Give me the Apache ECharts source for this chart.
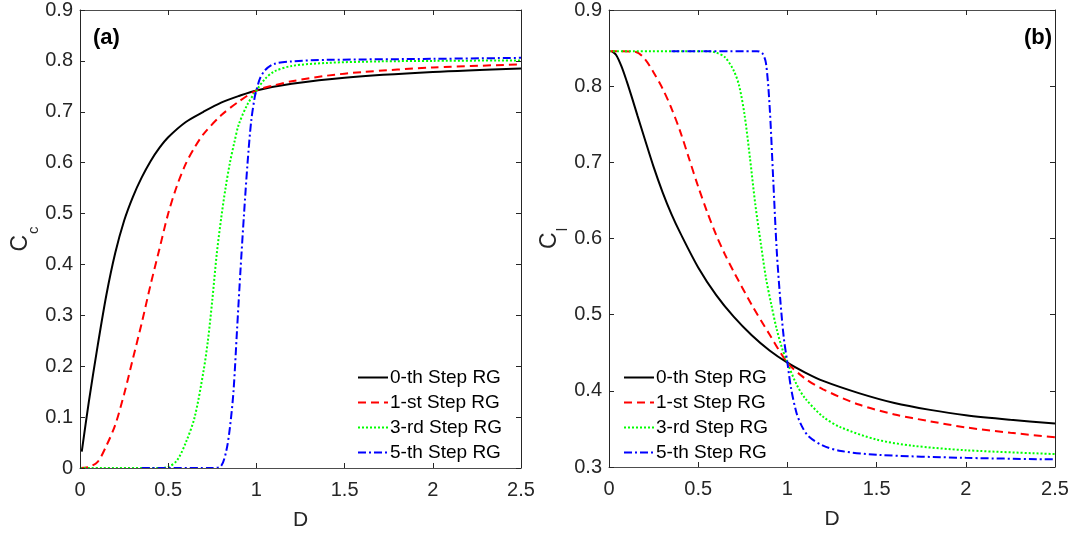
<!DOCTYPE html>
<html><head><meta charset="utf-8">
<script src="https://cdn.jsdelivr.net/npm/echarts@6/dist/echarts.min.js"></script>
<style>html,body{margin:0;padding:0;background:#fff}#c{width:1078px;height:538px}</style>
</head><body><div id="c"></div>
<script>
// ---- Data ----
const seriesNames = ['0-th Step RG', '1-st Step RG', '3-rd Step RG', '5-th Step RG'];
const xTicks = [0, 0.5, 1, 1.5, 2, 2.5];

// Panel (a): C_c vs D
const aD0 = [0.01,0.05,0.1,0.15,0.2,0.25,0.3,0.35,0.4,0.45,0.5,0.6,0.7,0.8,0.9,1.0,1.2,1.5,2.0,2.5];
const aC0 = [0.032,0.13,0.24,0.341,0.423,0.486,0.533,0.571,0.603,0.629,0.65,0.68,0.70,0.718,0.731,0.742,0.755,0.767,0.778,0.785];
const aD1 = [0,0.05,0.1,0.15,0.2,0.25,0.3,0.35,0.4,0.45,0.5,0.55,0.6,0.65,0.7,0.8,0.9,1.0,1.1,1.2,1.4,1.6,2.0,2.5];
const aC1 = [0,0.002,0.012,0.044,0.085,0.145,0.215,0.285,0.36,0.43,0.5,0.555,0.598,0.63,0.656,0.693,0.72,0.742,0.752,0.76,0.771,0.778,0.787,0.793];
const aD3 = [0,0.45,0.5,0.55,0.6,0.65,0.7,0.725,0.75,0.775,0.8,0.825,0.85,0.875,0.9,0.95,1.0,1.05,1.1,1.2,1.4,1.7,2.0,2.5];
const aC3 = [0,0,0.002,0.015,0.05,0.1,0.19,0.25,0.33,0.42,0.49,0.55,0.6,0.64,0.675,0.715,0.742,0.765,0.779,0.79,0.796,0.799,0.8,0.801];
const aD5 = [0.35,0.75,0.8,0.83,0.85,0.87,0.89,0.91,0.93,0.95,0.97,0.99,1.0,1.02,1.05,1.1,1.2,1.4,2.0,2.5];
const aC5 = [0,0,0.004,0.035,0.08,0.15,0.27,0.39,0.5,0.6,0.68,0.728,0.742,0.765,0.782,0.794,0.799,0.802,0.804,0.806];

// Panel (b): C_l vs D
const bD0 = [0.015,0.04,0.07,0.1,0.13,0.16,0.2,0.25,0.3,0.35,0.4,0.5,0.6,0.7,0.8,0.9,1.0,1.1,1.2,1.4,1.6,1.8,2.0,2.25,2.5];
const bC0 = [0.846,0.841,0.826,0.806,0.784,0.761,0.731,0.694,0.661,0.632,0.607,0.562,0.526,0.497,0.473,0.453,0.437,0.424,0.413,0.397,0.384,0.375,0.368,0.362,0.357];
const bD1 = [0,0.15,0.2,0.25,0.3,0.35,0.4,0.45,0.5,0.55,0.6,0.65,0.7,0.8,0.9,1.0,1.1,1.2,1.4,1.6,1.8,2.0,2.25,2.5];
const bC1 = [0.846,0.845,0.836,0.818,0.797,0.771,0.740,0.704,0.668,0.635,0.605,0.579,0.556,0.513,0.474,0.437,0.416,0.402,0.382,0.369,0.36,0.352,0.345,0.339];
const bD3 = [0,0.55,0.6,0.65,0.7,0.73,0.76,0.79,0.82,0.85,0.88,0.91,0.94,0.97,1.0,1.05,1.1,1.2,1.3,1.5,1.7,2.0,2.5];
const bC3 = [0.846,0.846,0.844,0.838,0.82,0.8,0.762,0.706,0.645,0.595,0.548,0.513,0.481,0.456,0.437,0.409,0.39,0.366,0.352,0.336,0.328,0.322,0.317];
const bD5 = [0.35,0.83,0.86,0.88,0.9,0.92,0.94,0.96,0.98,1.0,1.02,1.05,1.08,1.12,1.2,1.3,1.5,2.0,2.5];
const bC5 = [0.846,0.846,0.843,0.83,0.775,0.68,0.585,0.52,0.469,0.437,0.404,0.372,0.354,0.34,0.328,0.321,0.316,0.312,0.31];

const colors = ['#000000', '#ff0000', '#00ff00', '#0000ff'];
const dashes = ['solid', [8, 5], [2, 2], [8, 3, 2, 3]];

function pairs(xs, ys) { return xs.map((x, i) => [x, ys[i]]); }

const panelA = [pairs(aD0, aC0), pairs(aD1, aC1), pairs(aD3, aC3), pairs(aD5, aC5)];
const panelB = [pairs(bD0, bC0), pairs(bD1, bC1), pairs(bD3, bC3), pairs(bD5, bC5)];

const FONT = 'Liberation Sans, Arial, sans-serif';
const TXT = '#262626';
const AX = '#262626';

function xAx(gi, pos) {
  return {
    type: 'value', gridIndex: gi, position: pos, min: 0, max: 2.5, interval: 0.5,
    name: pos === 'bottom' ? 'D' : '', nameLocation: 'middle', nameGap: 42,
    nameTextStyle: { fontFamily: FONT, fontSize: 21, color: TXT },
    axisLine: { show: true, onZero: false, lineStyle: { color: '#4d4d4d', width: 1 } },
    axisTick: { show: true, inside: true, length: 5, lineStyle: { color: AX } },
    axisLabel: { show: pos === 'bottom', fontFamily: FONT, fontSize: 20, color: TXT, margin: 12 },
    splitLine: { show: false }, z: 5
  };
}
function yAx(gi, pos, min, nameRich, gap) {
  return {
    type: 'value', gridIndex: gi, position: pos, min: min, max: 0.9, interval: 0.1,
    name: pos === 'left' ? nameRich : '', nameLocation: 'middle', nameGap: gap,
    nameRotate: 90,
    nameTextStyle: {
      fontFamily: FONT, fontSize: 23, color: TXT,
      rich: {
        m: { fontFamily: FONT, fontSize: 23, color: TXT, verticalAlign: 'top', lineHeight: 24 },
        s: { fontFamily: FONT, fontSize: 15, color: TXT, verticalAlign: 'top', lineHeight: 15, padding: [17, 0, 0, 1] }
      }
    },
    axisLine: { show: true, onZero: false, lineStyle: { color: AX, width: 1 } },
    axisTick: { show: true, inside: true, length: 5, lineStyle: { color: AX } },
    axisLabel: { show: pos === 'left', fontFamily: FONT, fontSize: 20, color: TXT, margin: 7,
      formatter: v => (Math.round(v * 10) / 10).toString() },
    splitLine: { show: false }, z: 5
  };
}

const series = [];
[panelA, panelB].forEach((panel, gi) => {
  panel.forEach((d, i) => {
    series.push({
      name: seriesNames[i], type: 'line', xAxisIndex: gi * 2, yAxisIndex: gi * 2,
      data: d, showSymbol: false, symbol: 'none', smooth: 0.3,
      lineStyle: { color: colors[i], width: 2, type: dashes[i] },
      itemStyle: { color: colors[i] }, z: 3, clip: true
    });
  });
});

const legendCommon = {
  orient: 'vertical', itemWidth: 30, itemHeight: 14, itemGap: 6,
  textStyle: { fontFamily: FONT, fontSize: 19, color: '#000', padding: [0, 0, 0, -3] },
  itemStyle: { opacity: 0, borderWidth: 0 },
  data: seriesNames, selectedMode: false
};

const option = {
  animation: false,
  backgroundColor: '#fff',
  grid: [
    { left: 80, top: 9, width: 441, height: 459 },
    { left: 609, top: 9, width: 446, height: 458 }
  ],
  xAxis: [xAx(0, 'bottom'), xAx(0, 'top'), xAx(1, 'bottom'), xAx(1, 'top')],
  yAxis: [
    yAx(0, 'left', 0, '{m|C}{s|c}', 45), yAx(0, 'right', 0, '', 0),
    yAx(1, 'left', 0.3, '{m|C}{s|l}', 46), yAx(1, 'right', 0.3, '', 0)
  ],
  title: [
    { text: '(a)', left: 88, top: 22, textStyle: { fontFamily: FONT, fontSize: 22, fontWeight: 'bold', color: '#000' } },
    { text: '(b)', right: 21, top: 22, textStyle: { fontFamily: FONT, fontSize: 22, fontWeight: 'bold', color: '#000' } }
  ],
  legend: [
    Object.assign({}, legendCommon, { left: 352, top: 363 }),
    Object.assign({}, legendCommon, { left: 618, top: 363 })
  ],
  series: series
};

const chart = echarts.init(document.getElementById('c'), null, { renderer: 'canvas' });
chart.setOption(option);
</script>
</body></html>
